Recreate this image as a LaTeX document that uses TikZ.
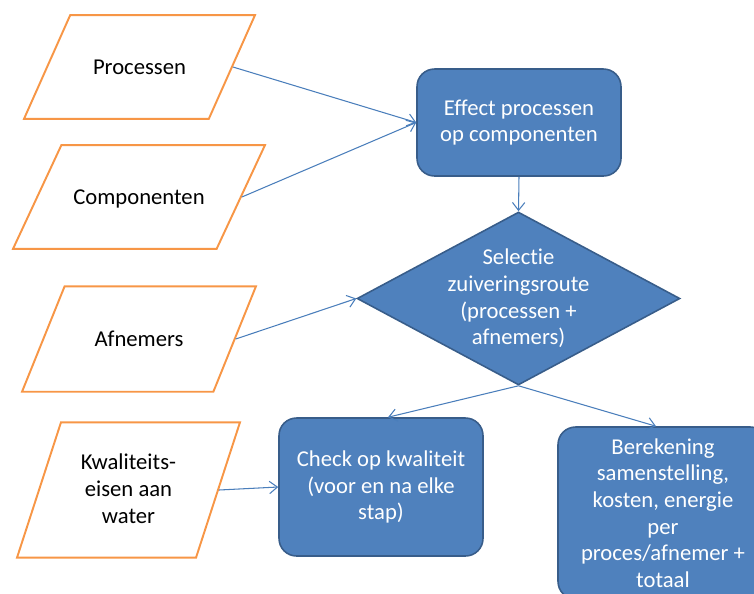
\documentclass[tikz,border=0pt]{standalone}
\usepackage{fontspec}
\setmainfont{Carlito}[Ligatures=NoCommon]
\usetikzlibrary{shapes.geometric,arrows.meta}

\definecolor{boxblue}{RGB}{79,129,189}
\definecolor{boxedge}{RGB}{56,93,138}
\definecolor{inorange}{RGB}{247,150,70}
\definecolor{arrowblue}{RGB}{74,126,187}

\tikzset{
	invoer/.style={draw=inorange, line width=1.1pt, fill=white, trapezium, trapezium stretches body=true, align=center, inner xsep=0pt, text height=10pt, text depth=2pt},
	stap/.style={draw=boxedge, line width=0.9pt, fill=boxblue, rounded corners=0.35cm, text=white, align=center, inner sep=0pt},
	keuze/.style={draw=boxedge, line width=0.9pt, fill=boxblue, diamond, inner sep=0pt},
	pijl/.style={draw=arrowblue, line width=0.6pt, -{Straight Barb[length=4.5pt,width=7pt]}}
}

\begin{document}
\begin{tikzpicture}[x=0.02cm, y=-0.02cm, font=\fontsize{12.9}{15.2}\selectfont]
	\useasboundingbox (0,0) rectangle (754,593);
	\clip (0,0) rectangle (754,593);

	\node[invoer, minimum width=4.62cm, inner ysep=23.5pt, trapezium left angle=66, trapezium right angle=114] (P) at (139.5,67) {Processen};
	\node[invoer, minimum width=5.04cm, inner ysep=23.5pt, trapezium left angle=65, trapezium right angle=115] (C) at (139,197) {Componenten};
	\node[invoer, minimum width=4.68cm, inner ysep=24pt, trapezium left angle=68, trapezium right angle=112] (A) at (139,339) {Afnemers};
	\node[invoer, minimum width=4.46cm, inner ysep=17.5pt, text height=40pt, trapezium left angle=72, trapezium right angle=108] (K) at (128.5,490) {Kwaliteits-\\eisen aan\\water};

	\node[stap, minimum width=4.08cm, minimum height=2.14cm] (E) at (519,122.5) {Effect processen\\op componenten};
	\node[keuze, minimum width=6.46cm, minimum height=3.46cm] (S) at (518.5,298.5) {};
	\node[text=white, align=center] (St) at (S.center) {Selectie\\zuiveringsroute\\(processen +\\afnemers)};
	\node[stap, minimum width=4.08cm, minimum height=2.76cm] (Q) at (381,487) {Check op kwaliteit\\(voor en na elke\\stap)};
	\node[stap, minimum width=4.2cm, minimum height=3.44cm] (B) at (663,513) {Berekening\\samenstelling,\\kosten, energie\\per\\proces/afnemer +\\totaal};

	\path[pijl] (P.east) -- (E.west);
	\path[pijl] (C.east) -- (E.west);
	\path[pijl] (E.south) -- (S.north);
	\path[pijl] (A.east) -- (S.west);
	\path[pijl] (K.east) -- (Q.west);
	\path[pijl] (S.south) -- ([xshift=4]Q.north);
	\path[pijl] (S.south) -- ([xshift=-4]B.north);
\end{tikzpicture}
\end{document}
